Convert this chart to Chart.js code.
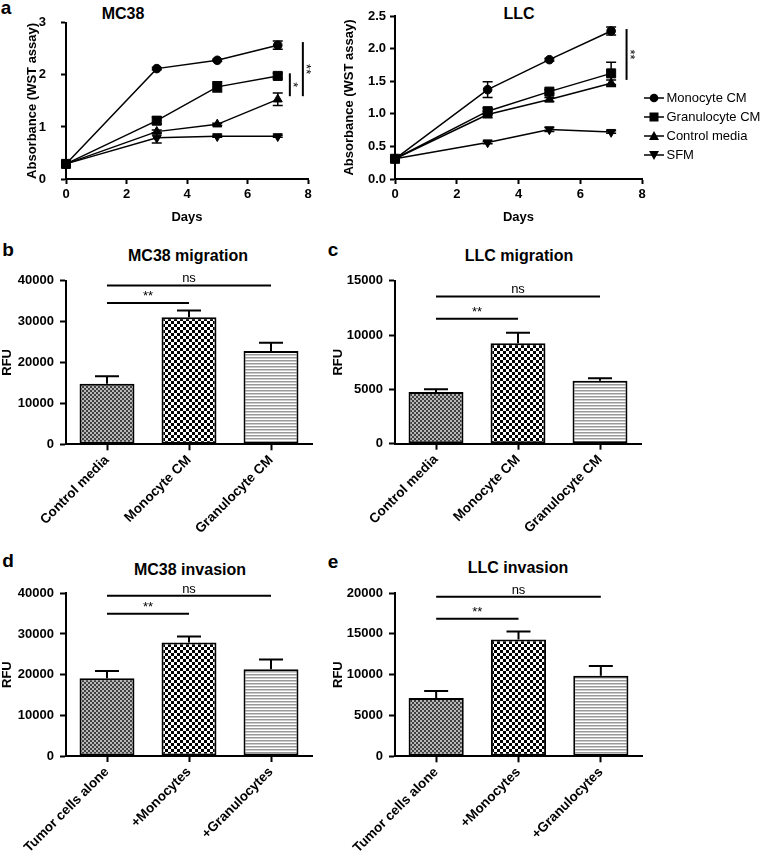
<!DOCTYPE html>
<html>
<head>
<meta charset="utf-8">
<script src="https://cdn.jsdelivr.net/npm/chart.js@4.4.0/dist/chart.umd.min.js"></script>
<style>
  body { margin: 0; background: #fff; }
  #page { position: relative; width: 762px; height: 853px; overflow: hidden; font-family: 'Liberation Sans', Arial, sans-serif; color: #000; }
  canvas { position: absolute; }
  .letter { position: absolute; font-weight: bold; font-size: 19px; transform: translate(-50%, -50%); }
  .title { position: absolute; font-weight: bold; font-size: 16px; transform: translate(-50%, -50%); white-space: nowrap; }
</style>
</head>
<body>
<div id="page">
  <div class="letter" style="left:6px;top:8px">a</div>
  <div class="letter" style="left:8px;top:250px">b</div>
  <div class="letter" style="left:333px;top:250px">c</div>
  <div class="letter" style="left:8px;top:561px">d</div>
  <div class="letter" style="left:333px;top:562px">e</div>

  <div class="title" style="left:123px;top:14px">MC38</div>
  <div class="title" style="left:519px;top:14px">LLC</div>
  <div class="title" style="left:188px;top:256px">MC38 migration</div>
  <div class="title" style="left:519px;top:256px">LLC migration</div>
  <div class="title" style="left:190px;top:570px">MC38 invasion</div>
  <div class="title" style="left:518px;top:568px">LLC invasion</div>

  <canvas id="mc38Growth" style="left:0;top:0" width="381" height="237"></canvas>
  <canvas id="llcGrowth" style="left:330px;top:0" width="432" height="237"></canvas>
  <canvas id="mc38Migration" style="left:0;top:264px" width="381" height="282"></canvas>
  <canvas id="llcMigration" style="left:320px;top:264px" width="442" height="282"></canvas>
  <canvas id="mc38Invasion" style="left:0;top:578px" width="381" height="275"></canvas>
  <canvas id="llcInvasion" style="left:320px;top:578px" width="442" height="275"></canvas>
</div>
<script>
// ---- data ----
const days = [0, 3, 5, 7];
const growthLabels = ['Monocyte CM', 'Granulocyte CM', 'Control media', 'SFM'];

const mc38Monocyte = [0.29, 2.12, 2.28, 2.57];
const mc38MonocyteErr = [0.02, 0.02, 0.02, 0.08];
const mc38Granulocyte = [0.29, 1.12, 1.77, 1.98];
const mc38GranulocyteErr = [0.02, 0.07, 0.1, 0.05];
const mc38Control = [0.29, 0.91, 1.05, 1.53];
const mc38ControlErr = [0.02, 0.03, 0.02, 0.12];
const mc38Sfm = [0.29, 0.79, 0.82, 0.82];
const mc38SfmErr = [0.02, 0.1, 0.02, 0.02];

const llcMonocyte = [0.31, 1.37, 1.83, 2.27];
const llcMonocyteErr = [0.02, 0.12, 0.02, 0.06];
const llcGranulocyte = [0.31, 1.04, 1.34, 1.62];
const llcGranulocyteErr = [0.02, 0.05, 0.03, 0.17];
const llcControl = [0.31, 0.99, 1.22, 1.47];
const llcControlErr = [0.02, 0.05, 0.03, 0.05];
const llcSfm = [0.31, 0.56, 0.76, 0.72];
const llcSfmErr = [0.02, 0.02, 0.03, 0.02];

// vertical significance lines: [x, yFrom, yTo, text]
const mc38GrowthSig = [[7.4, 2.03, 1.59, '*'], [7.83, 2.63, 1.59, '**']];
const llcGrowthSig = [[7.5, 2.30, 1.52, '**']];

const migrationGroups = ['Control media', 'Monocyte CM', 'Granulocyte CM'];
const invasionGroups = ['Tumor cells alone', '+Monocytes', '+Granulocytes'];

const mc38MigrationRfu = [14800, 31000, 22800];
const mc38MigrationErr = [1800, 1700, 2000];
const llcMigrationRfu = [4750, 9250, 5800];
const llcMigrationErr = [250, 970, 220];
const mc38InvasionRfu = [19100, 27900, 21350];
const mc38InvasionErr = [1800, 1450, 2400];
const llcInvasionRfu = [7150, 14300, 9850];
const llcInvasionErr = [850, 980, 1200];

// horizontal significance lines: [fromGroup, toGroup, value, text]
const mc38MigrationSig = [[0, 2, 38800, 'ns'], [0, 1, 34500, '**']];
const llcMigrationSig = [[0, 2, 13550, 'ns'], [0, 1, 11500, '**']];
const mc38InvasionSig = [[0, 2, 39400, 'ns'], [0, 1, 35000, '**']];
const llcInvasionSig = [[0, 2, 19550, 'ns'], [0, 1, 16850, '**']];

// ---- setup ----
const FONT = "'Liberation Sans', Arial, sans-serif";
Chart.defaults.font.family = FONT;
Chart.defaults.color = '#000';

function makePattern(w, h, draw) {
  const c = document.createElement('canvas');
  c.width = w; c.height = h;
  const g = c.getContext('2d');
  draw(g);
  return g.createPattern(c, 'repeat');
}
const finePattern = makePattern(4, 4, g => {
  g.fillStyle = '#b8b8b8'; g.fillRect(0, 0, 4, 4);
  g.fillStyle = '#404040'; g.fillRect(0, 0, 2, 2); g.fillRect(2, 2, 2, 2);
});
const checkPattern = makePattern(6, 6, g => {
  g.fillStyle = '#fff'; g.fillRect(0, 0, 6, 6);
  g.fillStyle = '#000'; g.fillRect(0, 0, 3, 3); g.fillRect(3, 3, 3, 3);
});
const stripePattern = makePattern(1, 3, g => {
  g.fillStyle = '#fff'; g.fillRect(0, 0, 1, 3);
  g.fillStyle = '#999'; g.fillRect(0, 0, 1, 1);
  g.fillStyle = '#ccc'; g.fillRect(0, 1, 1, 1);
});

function legendIcon(style) {
  const c = document.createElement('canvas');
  c.width = 20; c.height = 12;
  const g = c.getContext('2d');
  g.strokeStyle = '#000'; g.lineWidth = 1.5;
  g.beginPath(); g.moveTo(0, 6); g.lineTo(20, 6); g.stroke();
  g.fillStyle = '#000';
  g.beginPath();
  if (style === 'circle') g.arc(10, 6, 4.3, 0, Math.PI * 2);
  else if (style === 'rect') g.rect(5.5, 1.5, 9, 9);
  else if (style === 'up') { g.moveTo(10, 1); g.lineTo(15, 10); g.lineTo(5, 10); }
  else { g.moveTo(10, 11); g.lineTo(15, 2); g.lineTo(5, 2); }
  g.fill();
  return c;
}
const legendIcons = [legendIcon('circle'), legendIcon('rect'), legendIcon('up'), legendIcon('down')];

const errorBars = {
  id: 'errorBars',
  beforeDatasetsDraw(chart) {
    const { ctx } = chart;
    const y = chart.scales.y;
    const upOnly = chart.config.type === 'bar';
    ctx.save();
    ctx.strokeStyle = '#000';
    ctx.lineWidth = upOnly ? 2 : 1.5;
    chart.data.datasets.forEach((ds, i) => {
      if (!ds.errors) return;
      chart.getDatasetMeta(i).data.forEach((el, j) => {
        const v = upOnly ? ds.data[j] : ds.data[j].y;
        const e = ds.errors[j];
        const top = y.getPixelForValue(v + e);
        const bottom = y.getPixelForValue(upOnly ? v : v - e);
        const half = upOnly ? 12 : 5;
        ctx.beginPath();
        ctx.moveTo(el.x, top); ctx.lineTo(el.x, bottom);
        ctx.moveTo(el.x - half, top); ctx.lineTo(el.x + half, top);
        if (!upOnly) { ctx.moveTo(el.x - half, bottom); ctx.lineTo(el.x + half, bottom); }
        ctx.stroke();
      });
    });
    ctx.restore();
  }
};

function sigMarks(horizontal, vertical) {
  return {
    id: 'sigMarks',
    afterDatasetsDraw(chart) {
      const { ctx, scales: { x, y } } = chart;
      ctx.save();
      ctx.strokeStyle = '#000'; ctx.fillStyle = '#000'; ctx.lineWidth = 2;
      ctx.font = '13px ' + FONT;
      ctx.textAlign = 'center';
      ctx.textBaseline = 'alphabetic';
      horizontal.forEach(([from, to, value, text]) => {
        const x0 = x.getPixelForValue(from), x1 = x.getPixelForValue(to);
        const py = y.getPixelForValue(value);
        ctx.beginPath(); ctx.moveTo(x0, py); ctx.lineTo(x1, py); ctx.stroke();
        ctx.fillText(text, (x0 + x1) / 2, py - 3);
      });
      vertical.forEach(([xv, from, to, text]) => {
        const px = x.getPixelForValue(xv);
        const y0 = y.getPixelForValue(from), y1 = y.getPixelForValue(to);
        ctx.beginPath(); ctx.moveTo(px, y0); ctx.lineTo(px, y1); ctx.stroke();
        ctx.save();
        ctx.translate(px, (y0 + y1) / 2);
        ctx.rotate(Math.PI / 2);
        ctx.fillText(text, 0, 1);
        ctx.restore();
      });
      ctx.restore();
    }
  };
}

function growthSet(label, values, errors, style, radius, rotation) {
  return {
    label,
    data: days.map((d, i) => ({ x: d, y: values[i] })),
    errors,
    borderColor: '#000',
    borderWidth: 1.5,
    pointStyle: style,
    pointRadius: radius,
    pointRotation: rotation || 0,
    pointBackgroundColor: '#000',
    pointBorderColor: '#000',
    pointBorderWidth: 1,
    clip: false
  };
}

function axisGrid(len) {
  return { drawOnChartArea: false, offset: false, tickLength: len, tickColor: '#000', tickWidth: 2 };
}
const axisBorder = { color: '#000', width: 2 };

function growthChart(id, sets, yMax, yStep, sig, pad, yWidth, yTickPad, showLegend) {
  return new Chart(document.getElementById(id), {
    type: 'line',
    data: { datasets: sets },
    options: {
      responsive: false,
      animation: false,
      layout: { padding: pad },
      plugins: {
        tooltip: { enabled: false },
        legend: {
          display: showLegend,
          position: 'right',
          maxWidth: 120,
          labels: {
            usePointStyle: true,
            pointStyleWidth: 12,
            padding: 6,
            color: '#000',
            font: { size: 13 },
            generateLabels: chart => chart.data.datasets.map((ds, i) => ({
              text: ds.label, pointStyle: legendIcons[i], fillStyle: '#000',
              strokeStyle: '#000', lineWidth: 0, hidden: false, datasetIndex: i, fontColor: '#000'
            }))
          }
        }
      },
      scales: {
        x: {
          type: 'linear', min: 0, max: 8,
          border: axisBorder, grid: axisGrid(5),
          ticks: { stepSize: 2, padding: 3, font: { size: 13, weight: 'bold' } },
          title: { display: true, text: 'Days', font: { size: 13, weight: 'bold' }, padding: { top: 4, bottom: 12 } },
          afterFit: s => { s.height = 58; }
        },
        y: {
          min: 0, max: yMax,
          border: axisBorder, grid: axisGrid(5),
          ticks: {
            stepSize: yStep, padding: yTickPad, font: { size: 13, weight: 'bold' },
            callback: v => yStep < 1 ? v.toFixed(1) : String(v)
          },
          title: { display: true, text: 'Absorbance (WST assay)', font: { size: 13, weight: 'bold' } },
          afterFit: s => { s.width = yWidth; }
        }
      }
    },
    plugins: [errorBars, sigMarks([], sig)]
  });
}

function rfuChart(id, groups, values, errors, yMax, yStep, sig, pad, yWidth, xHeight) {
  return new Chart(document.getElementById(id), {
    type: 'bar',
    data: {
      labels: groups,
      datasets: [{
        data: values,
        errors,
        backgroundColor: [finePattern, checkPattern, stripePattern],
        borderColor: '#000',
        borderWidth: 2,
        borderSkipped: false,
        barPercentage: 0.67,
        categoryPercentage: 1
      }]
    },
    options: {
      responsive: false,
      animation: false,
      layout: { padding: pad },
      plugins: { legend: { display: false }, tooltip: { enabled: false } },
      scales: {
        x: {
          border: axisBorder, grid: axisGrid(6),
          ticks: { minRotation: 45, maxRotation: 45, padding: 2, font: { size: 13.5, weight: 'bold' } },
          afterFit: s => { s.height = xHeight; }
        },
        y: {
          min: 0, max: yMax,
          border: axisBorder, grid: axisGrid(6),
          ticks: { stepSize: yStep, padding: 6, font: { size: 13, weight: 'bold' }, callback: v => String(v) },
          title: { display: true, text: 'RFU', font: { size: 13, weight: 'bold' }, padding: { top: 0, bottom: 0 } },
          afterFit: s => { s.width = yWidth; }
        }
      }
    },
    plugins: [errorBars, sigMarks(sig, [])]
  });
}

growthChart('mc38Growth', [
  growthSet(growthLabels[0], mc38Monocyte, mc38MonocyteErr, 'circle', 4.3),
  growthSet(growthLabels[1], mc38Granulocyte, mc38GranulocyteErr, 'rect', 6.4),
  growthSet(growthLabels[2], mc38Control, mc38ControlErr, 'triangle', 5.2),
  growthSet(growthLabels[3], mc38Sfm, mc38SfmErr, 'triangle', 5.2, 180)
], 3, 1, mc38GrowthSig, { top: 19, left: 21, right: 73, bottom: 0 }, 45, 15, false);

growthChart('llcGrowth', [
  growthSet(growthLabels[0], llcMonocyte, llcMonocyteErr, 'circle', 4.3),
  growthSet(growthLabels[1], llcGranulocyte, llcGranulocyteErr, 'rect', 6.4),
  growthSet(growthLabels[2], llcControl, llcControlErr, 'triangle', 5.2),
  growthSet(growthLabels[3], llcSfm, llcSfmErr, 'triangle', 5.2, 180)
], 2.5, 0.5, llcGrowthSig, { top: 16, left: 8, right: 0, bottom: 0 }, 57, 4, true);

rfuChart('mc38Migration', migrationGroups, mc38MigrationRfu, mc38MigrationErr, 40000, 10000,
  mc38MigrationSig, { top: 16.5, left: 0, right: 69, bottom: 0 }, 66, 101.7);
rfuChart('llcMigration', migrationGroups, llcMigrationRfu, llcMigrationErr, 15000, 5000,
  llcMigrationSig, { top: 16.7, left: 11, right: 121, bottom: 0 }, 64, 102.3);
rfuChart('mc38Invasion', invasionGroups, mc38InvasionRfu, mc38InvasionErr, 40000, 10000,
  mc38InvasionSig, { top: 15.3, left: 0, right: 69, bottom: 0 }, 66, 97);
rfuChart('llcInvasion', invasionGroups, llcInvasionRfu, llcInvasionErr, 20000, 5000,
  llcInvasionSig, { top: 15, left: 11, right: 120, bottom: 0 }, 64, 96.7);
</script>
</body>
</html>
